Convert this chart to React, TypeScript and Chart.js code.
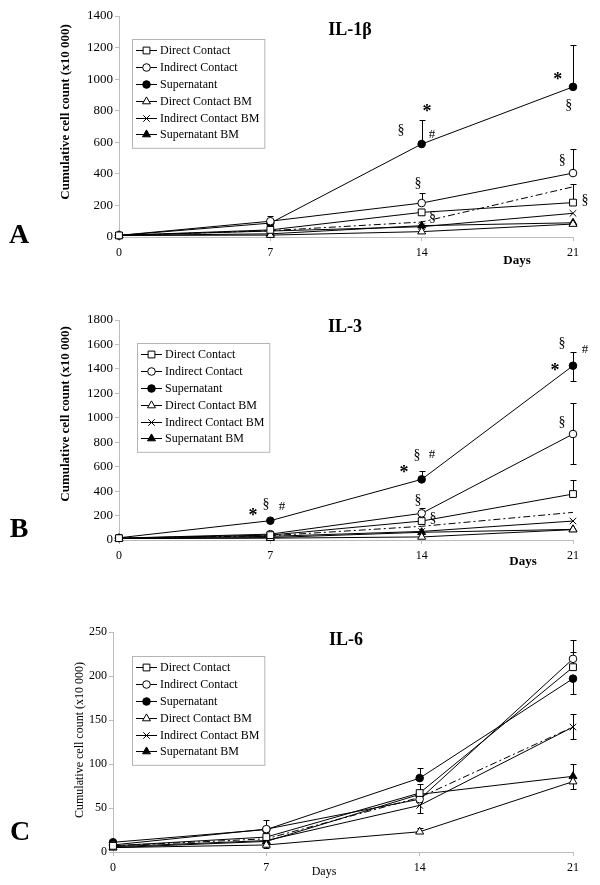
import React, { useEffect, useRef } from 'react';
import { Chart, registerables } from 'chart.js';
import { drawPoint } from 'chart.js/helpers';

Chart.register(...registerables);

const SERIF = "'Liberation Serif', 'Times New Roman', Times, serif";
Chart.defaults.font.family = SERIF;

// ---------- data ----------
const days = [0, 7, 14, 21];
const seriesLabels = [
  'Direct Contact',
  'Indirect Contact',
  'Supernatant',
  'Direct Contact BM',
  'Indirect Contact BM',
  'Supernatant BM',
];
const NONE = [null, null, null, null];

// IL-1β
const il1bDirect = [10, 45, 156, 218];
const il1bIndirect = [10, 100, 215, 405];
const il1bSupernatant = [10, 88, 589, 951];
const il1bDirectBM = [10, 12, 34, 82];
const il1bIndirectBM = [10, 38, 65, 150];
const il1bSupernatantBM = [10, 20, 72, 90];
const il1bDashDot = [10, 40, 95, 318];
const il1bDirectErrUp = [null, null, null, 115];
const il1bIndirectErrUp = [null, 35, 61, 150];
const il1bSupernatantErrUp = [null, null, 151, 268];
const il1bYTicks = [0, 1400, 200];
const il1bMarks = [
  ['*', 14.25, 817], ['§', 13.04, 677], ['#', 14.48, 646],
  ['*', 20.3, 1019], ['§', 20.8, 836], ['§', 20.5, 487],
  ['§', 13.83, 342], ['§', 14.5, 127], ['§', 21.55, 234],
];

// IL-3
const il3Direct = [15, 40, 155, 376];
const il3Indirect = [15, 48, 218, 867];
const il3Supernatant = [18, 158, 496, 1426];
const il3DirectBM = [12, 15, 25, 85];
const il3IndirectBM = [12, 30, 70, 155];
const il3SupernatantBM = [12, 20, 63, 87];
const il3DashDot = [15, 35, 112, 226];
const il3DirectErrUp = [null, null, null, 115];
const il3IndirectErrUp = [null, null, 41, 251];
const il3IndirectErrDown = [null, null, null, 248];
const il3SupernatantErrUp = [null, null, 68, 115];
const il3SupernatantErrDown = [null, null, null, 126];
const il3YTicks = [0, 1800, 200];
const il3Marks = [
  ['*', 6.2, 229], ['§', 6.8, 294], ['#', 7.54, 270],
  ['*', 13.18, 581], ['§', 13.78, 695], ['#', 14.48, 695],
  ['§', 13.83, 327], ['§', 14.52, 180],
  ['§', 20.49, 1611], ['#', 21.55, 1554], ['*', 20.17, 1415], ['§', 20.49, 965],
];

// IL-6
const il6Direct = [7, 17, 67, 210];
const il6Indirect = [8, 26, 60, 219.5];
const il6Supernatant = [11, 25.5, 84, 197];
const il6DirectBM = [5, 8, 23, 80];
const il6IndirectBM = [6, 13, 53, 142];
const il6SupernatantBM = [5, 12, 65.5, 86];
const il6DashDot = [7, 15, 62, 142];
const il6DirectErrUp = [null, null, 10, 17];
const il6IndirectErrUp = [null, 10, null, 21];
const il6SupernatantErrUp = [null, null, 12, null];
const il6SupernatantErrDown = [null, null, null, 18];
const il6DirectBMErrUp = [null, null, 4.5, null];
const il6DirectBMErrDown = [null, 3, null, 8];
const il6IndirectBMErrUp = [null, null, null, 15];
const il6IndirectBMErrDown = [null, null, 9, 14];
const il6SupernatantBMErrUp = [null, null, null, 14.5];
const il6YTicks = [0, 250, 50];
const il6Marks: any[] = [];

// ---------- styles ----------
const markerStyles = [
  { pointStyle: 'rect', radius: 4.8, fill: '#ffffff' },
  { pointStyle: 'circle', radius: 3.8, fill: '#ffffff' },
  { pointStyle: 'circle', radius: 3.8, fill: '#000000' },
  { pointStyle: 'triangle', radius: 4.6, fill: '#ffffff' },
  { pointStyle: 'crossRot', radius: 4.6, fill: '#ffffff' },
  { pointStyle: 'triangle', radius: 4.6, fill: '#000000' },
];
const AXIS = '#bdbdbd';

const panels = [
  {
    title: 'IL-1β', letter: 'A', top: 0, height: 290,
    series: [il1bDirect, il1bIndirect, il1bSupernatant, il1bDirectBM, il1bIndirectBM, il1bSupernatantBM],
    dash: il1bDashDot,
    errUp: [il1bDirectErrUp, il1bIndirectErrUp, il1bSupernatantErrUp, NONE, NONE, NONE],
    errDown: [NONE, NONE, NONE, NONE, NONE, NONE],
    yTicks: il1bYTicks, marks: il1bMarks,
    axisLeft: 119, padTop: 16, padBottom: 23,
    tickFont: 13, xTickFont: 12, bold: true,
    titlePos: [350, 30], letterPos: [19, 236], daysPos: [517, 261], yTitlePos: [66, 112], legendPos: [132, 39],
  },
  {
    title: 'IL-3', letter: 'B', top: 290, height: 300,
    series: [il3Direct, il3Indirect, il3Supernatant, il3DirectBM, il3IndirectBM, il3SupernatantBM],
    dash: il3DashDot,
    errUp: [il3DirectErrUp, il3IndirectErrUp, il3SupernatantErrUp, NONE, NONE, NONE],
    errDown: [NONE, il3IndirectErrDown, il3SupernatantErrDown, NONE, NONE, NONE],
    yTicks: il3YTicks, marks: il3Marks,
    axisLeft: 119, padTop: 30, padBottom: 20,
    tickFont: 13, xTickFont: 12, bold: true,
    titlePos: [345, 37], letterPos: [19, 240], daysPos: [523, 272], yTitlePos: [66, 124], legendPos: [137, 53],
  },
  {
    title: 'IL-6', letter: 'C', top: 590, height: 295,
    series: [il6Direct, il6Indirect, il6Supernatant, il6DirectBM, il6IndirectBM, il6SupernatantBM],
    dash: il6DashDot,
    errUp: [il6DirectErrUp, il6IndirectErrUp, il6SupernatantErrUp, il6DirectBMErrUp, il6IndirectBMErrUp, il6SupernatantBMErrUp],
    errDown: [NONE, NONE, il6SupernatantErrDown, il6DirectBMErrDown, il6IndirectBMErrDown, NONE],
    yTicks: il6YTicks, marks: il6Marks,
    axisLeft: 113, padTop: 42, padBottom: 3,
    tickFont: 12, xTickFont: 12, bold: false,
    titlePos: [346, 50], letterPos: [20, 243], daysPos: [324, 282], yTitlePos: [80, 150], legendPos: [132, 66],
  },
];

function makePlugin(p: any) {
  return {
    id: 'panelDecor',
    beforeDatasetsDraw(chart: any) {
      const { ctx } = chart;
      const xs = chart.scales.x, ys = chart.scales.y;
      ctx.save();
      ctx.strokeStyle = '#000';
      ctx.lineWidth = 1;
      p.series.forEach((vals: number[], si: number) => {
        vals.forEach((v, i) => {
          const x = Math.round(xs.getPixelForValue(days[i])) + 0.5;
          const yv = ys.getPixelForValue(v);
          const up = p.errUp[si][i];
          const dn = p.errDown[si][i];
          [up == null ? null : v + up, dn == null ? null : v - dn].forEach((end) => {
            if (end == null) return;
            const ye = Math.round(ys.getPixelForValue(end)) + 0.5;
            ctx.beginPath();
            ctx.moveTo(x, yv);
            ctx.lineTo(x, ye);
            ctx.moveTo(x - 3, ye);
            ctx.lineTo(x + 3, ye);
            ctx.stroke();
          });
        });
      });
      ctx.restore();
    },
    afterDraw(chart: any) {
      const { ctx } = chart;
      const xs = chart.scales.x, ys = chart.scales.y;
      ctx.save();
      ctx.fillStyle = '#000';
      // title
      ctx.font = `bold 18px ${SERIF}`;
      ctx.textAlign = 'center';
      ctx.textBaseline = 'middle';
      ctx.fillText(p.title, p.titlePos[0], p.titlePos[1]);
      // panel letter
      ctx.font = `bold 28px ${SERIF}`;
      ctx.fillText(p.letter, p.letterPos[0], p.letterPos[1]);
      // Days
      ctx.font = p.bold ? `bold 13px ${SERIF}` : `12px ${SERIF}`;
      ctx.fillText('Days', p.daysPos[0], p.daysPos[1]);
      // y title
      ctx.save();
      ctx.translate(p.yTitlePos[0], p.yTitlePos[1]);
      ctx.rotate(-Math.PI / 2);
      ctx.font = p.bold ? `bold 13px ${SERIF}` : `12px ${SERIF}`;
      ctx.fillText('Cumulative cell count (x10 000)', 0, 0);
      ctx.restore();
      // significance marks
      p.marks.forEach((m: any) => {
        const [sym, d, v] = m;
        const x = xs.getPixelForValue(d);
        let y = ys.getPixelForValue(v);
        if (sym === '*') {
          ctx.font = `bold 18px ${SERIF}`;
          y += 4;
        } else if (sym === '§') {
          ctx.font = `14px ${SERIF}`;
        } else {
          ctx.font = `13px ${SERIF}`;
        }
        ctx.fillText(sym, x, y);
      });
      // legend
      ctx.font = `12px ${SERIF}`;
      ctx.textAlign = 'left';
      const rowH = 16.8;
      const textW = Math.max(...seriesLabels.map((l) => ctx.measureText(l).width));
      const [bx, by] = p.legendPos;
      const bw = 28 + textW + 5;
      const bh = rowH * 6 + 8;
      ctx.strokeStyle = '#b5b5b5';
      ctx.lineWidth = 1;
      ctx.strokeRect(bx + 0.5, by + 0.5, bw, bh);
      seriesLabels.forEach((lab, i) => {
        const y = Math.round(by + 3 + rowH * (i + 0.5)) + 0.5;
        ctx.strokeStyle = '#000';
        ctx.beginPath();
        ctx.moveTo(bx + 4, y);
        ctx.lineTo(bx + 25, y);
        ctx.stroke();
        const st = markerStyles[i];
        ctx.fillStyle = st.fill;
        ctx.strokeStyle = '#000';
        drawPoint(ctx, { pointStyle: st.pointStyle, radius: st.radius, rotation: 0, borderWidth: 1 } as any, bx + 14.5, y);
        ctx.fillStyle = '#000';
        ctx.textBaseline = 'middle';
        ctx.fillText(lab, bx + 28, y);
      });
      ctx.restore();
    },
  };
}

function buildConfig(p: any): any {
  const datasets: any[] = p.series.map((vals: number[], i: number) => ({
    label: seriesLabels[i],
    data: days.map((d, j) => ({ x: d, y: vals[j] })),
    borderColor: '#000',
    borderWidth: 1,
    backgroundColor: markerStyles[i].fill,
    pointStyle: markerStyles[i].pointStyle,
    pointRadius: markerStyles[i].radius,
    pointBackgroundColor: markerStyles[i].fill,
    pointBorderColor: '#000',
    pointBorderWidth: 1,
    fill: false,
    tension: 0,
    clip: false,
  }));
  datasets.push({
    label: 'trend',
    data: days.map((d, j) => ({ x: d, y: p.dash[j] })),
    borderColor: '#000',
    borderWidth: 1,
    borderDash: [7, 3, 2, 3],
    pointRadius: 0,
    fill: false,
    tension: 0,
    clip: false,
  });
  const axisLeft = p.axisLeft;
  return {
    type: 'line',
    data: { datasets },
    plugins: [makePlugin(p)],
    options: {
      responsive: false,
      animation: false,
      events: [],
      layout: { padding: { left: 0, top: p.padTop, right: 600 - 573, bottom: p.padBottom } },
      plugins: { legend: { display: false }, title: { display: false }, tooltip: { enabled: false } },
      scales: {
        x: {
          type: 'linear',
          min: days[0],
          max: days[days.length - 1],
          ticks: { stepSize: 7, color: '#000', font: { size: p.xTickFont, family: SERIF }, padding: 5, maxRotation: 0 },
          grid: { drawOnChartArea: false, drawTicks: true, tickLength: 4, color: AXIS },
          border: { color: AXIS, width: 1 },
          afterFit: (s: any) => { s.height = 30; },
        },
        y: {
          type: 'linear',
          min: p.yTicks[0],
          max: p.yTicks[1],
          ticks: {
            stepSize: p.yTicks[2],
            color: '#000',
            font: { size: p.tickFont, family: SERIF },
            padding: 2,
            callback: (v: any) => String(v),
          },
          grid: { drawOnChartArea: false, drawTicks: true, tickLength: 4, color: AXIS },
          border: { color: AXIS, width: 1 },
          afterFit: (s: any) => { s.width = axisLeft; },
        },
      },
    },
  };
}

function Panel({ p }: { p: any }) {
  const ref = useRef<HTMLCanvasElement>(null);
  useEffect(() => {
    const chart = new Chart(ref.current as HTMLCanvasElement, buildConfig(p));
    return () => chart.destroy();
  }, [p]);
  return (
    <canvas
      ref={ref}
      width={600}
      height={p.height}
      style={{ position: 'absolute', left: 0, top: p.top, width: 600, height: p.height }}
    />
  );
}

export default function App() {
  return (
    <div style={{ position: 'absolute', left: 0, top: 0, width: 600, height: 885, background: '#fff' }}>
      {panels.map((p) => (
        <Panel key={p.letter} p={p} />
      ))}
    </div>
  );
}
